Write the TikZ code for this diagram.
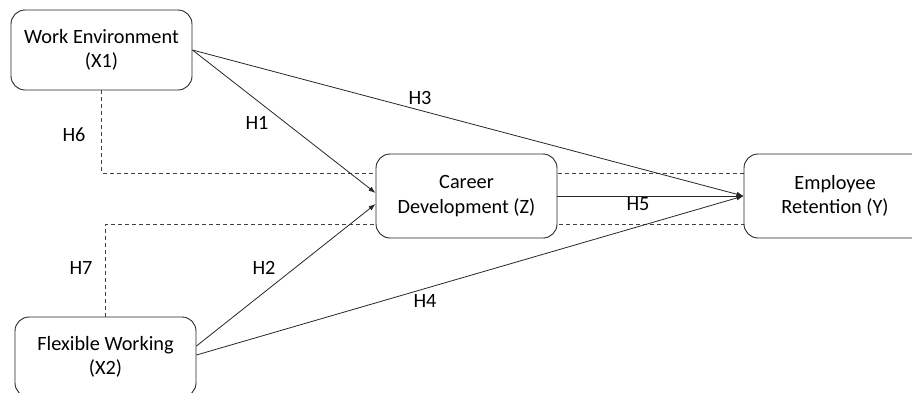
\documentclass[tikz,border=0pt]{standalone}
\usepackage{fontspec}
\setmainfont{Carlito}
\usetikzlibrary{arrows.meta}
\begin{document}
\begin{tikzpicture}[x=1pt,y=-1pt,
  font=\fontsize{20.3}{24.5}\selectfont,
  var/.style={draw=black!85, line width=0.9pt, fill=white, rounded corners=14pt,
    minimum width=181pt, minimum height=80pt, align=center, inner sep=0pt},
  path/.style={draw=black!85, line width=0.8pt, -{Latex[length=7pt,width=5pt]}},
  mod/.style={draw=black!75, line width=0.8pt, dash pattern=on 4pt off 3pt},
  lab/.style={inner sep=0pt}]
\useasboundingbox (0,0) rectangle (912,392);
\clip (0,0) rectangle (912,392);
% node positions
\coordinate (weC) at (101.5,50);
\coordinate (fwC) at (105.5,357);
\coordinate (cdC) at (466.5,196);
\coordinate (erC) at (835,196);
% moderator dashed lines (drawn first, behind boxes)
\node[var, draw=none, fill=none] (we0) at (weC) {};
\node[var, draw=none, fill=none] (fw0) at (fwC) {};
\node[var, draw=none, fill=none, minimum height=84pt, minimum width=182pt] (er0) at (erC) {};
\draw[mod] (we0.south) |- ([yshift=23pt]er0.west);
\draw[mod] (fw0.north) |- ([yshift=-28pt]er0.west);
% boxes
\node[var] (we) at (weC) {Work Environment\\(X1)};
\node[var] (fw) at (fwC) {Flexible Working\\(X2)};
\node[var, minimum height=84pt] (cd) at (cdC) {Career\\Development (Z)};
\node[var, minimum height=84pt, minimum width=182pt] (er) at (erC) {Employee\\Retention (Y)};
% paths
\draw[path] (we.east) -- ([yshift=3pt]cd.west);
\draw[path] ([yshift=11pt]fw.east) -- ([yshift=-8pt]cd.west);
\draw[path] (we.east) -- (er.west);
\draw[path] ([yshift=2pt]fw.east) -- (er.west);
\draw[path] (cd.east) -- (er.west);
% labels
\node[lab] (h1) at (257,123) {H1};
\node[lab] (h2) at (264,268) {H2};
\node[lab] (h3) at (420,98) {H3};
\node[lab] (h4) at (425,301) {H4};
\node[lab] (h5) at (638,204) {H5};
\node[lab] (h6) at (74,135) {H6};
\node[lab] (h7) at (81,268) {H7};
\end{tikzpicture}
\end{document}
